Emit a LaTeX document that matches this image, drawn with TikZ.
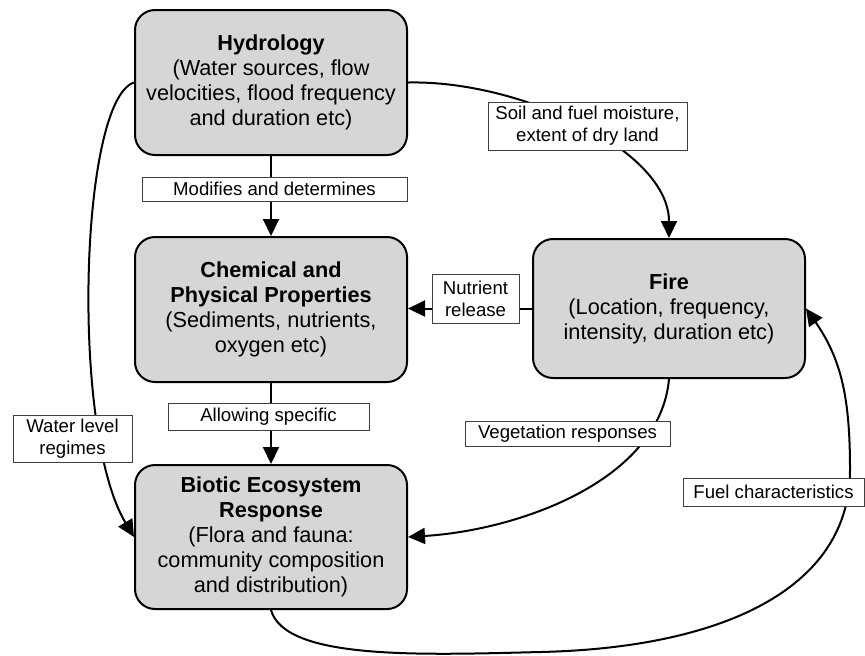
\documentclass[tikz,border=0pt]{standalone}
\usepackage{fontspec}
\setmainfont{Liberation Sans}
\usetikzlibrary{arrows.meta}
\definecolor{boxfill}{HTML}{D6D6D6}
\definecolor{labline}{HTML}{404040}
\tikzset{
  box/.style={draw=black, line width=1pt, fill=boxfill, rounded corners=10pt,
    minimum width=136pt, align=center, font=\fontsize{10.85}{12.5}\selectfont},
  lab/.style={draw=labline, line width=0.5pt, fill=white, align=center,
    inner xsep=2pt, inner ysep=1.5pt, font=\fontsize{9.3}{10.85}\selectfont},
  conn/.style={draw=black, line width=1pt, -{Triangle[length=8.5pt,width=8pt]}}
}

\begin{document}
\begin{tikzpicture}[x=0.5pt, y=-0.5pt]
  \useasboundingbox (0,0) rectangle (865,655);

  % the four boxes
  \node[box, minimum height=72.5pt] (hyd) at (271,82.5)
    {\textbf{Hydrology}\\(Water sources, flow\\velocities, flood frequency\\and duration etc)};
  \node[box, minimum height=72.5pt] (chem) at (271,309.5)
    {\textbf{Chemical and}\\\textbf{Physical Properties}\\(Sediments, nutrients,\\oxygen etc)};
  \node[box, minimum height=72pt] (bio) at (271,537)
    {\textbf{Biotic Ecosystem}\\\textbf{Response}\\(Flora and fauna:\\community composition\\and distribution)};
  \node[box, minimum height=69.5pt] (fire) at (669,308.5)
    {\textbf{Fire}\\(Location, frequency,\\intensity, duration etc)};

  \draw[conn] (hyd.south) -- (chem.north);
  \draw[conn] (chem.south) -- (bio.north);
  \draw[conn] (fire.west) -- (chem.east |- fire.west);
  \draw[conn] (hyd.west) .. controls (80,100) and (70,430) .. (bio.west);
  \draw[conn] (hyd.east) .. controls (520,80) and (669,150) .. (fire.north);
  \draw[conn] (fire.south) .. controls (660,480) and (520,530) .. (bio.east);
  \draw[conn] (bio.south) .. controls (285,660) and (420,655) .. (540,652)
    .. controls (720,648) and (850,590) .. (850,470)
    .. controls (850,400) and (842,360) .. (fire.east);

  % labels on the links
  \node[lab, minimum width=132.5pt, minimum height=12pt] (modlab) at (274.5,189) {Modifies and determines};
  \node[lab, minimum width=100.5pt, minimum height=13.5pt] (allowlab) at (268.5,416.5) {Allowing specific};
  \node[lab, minimum width=43.5pt, minimum height=24.5pt] (nutrlab) at (475.5,298.5) {Nutrient\\release};
  \node[lab, minimum width=99.5pt, minimum height=24pt] (soillab) at (587.5,126) {Soil and fuel moisture,\\extent of dry land};
  \node[lab, minimum width=102.5pt, minimum height=12.5pt] (veglab) at (567.5,433.5) {Vegetation responses};
  \node[lab, minimum width=90.5pt, minimum height=14pt] (fuellab) at (773.5,492) {Fuel characteristics};
  \node[lab, minimum width=59.5pt, minimum height=23.5pt] (waterlab) at (72.5,438.5) {Water level\\regimes};
\end{tikzpicture}
\end{document}
